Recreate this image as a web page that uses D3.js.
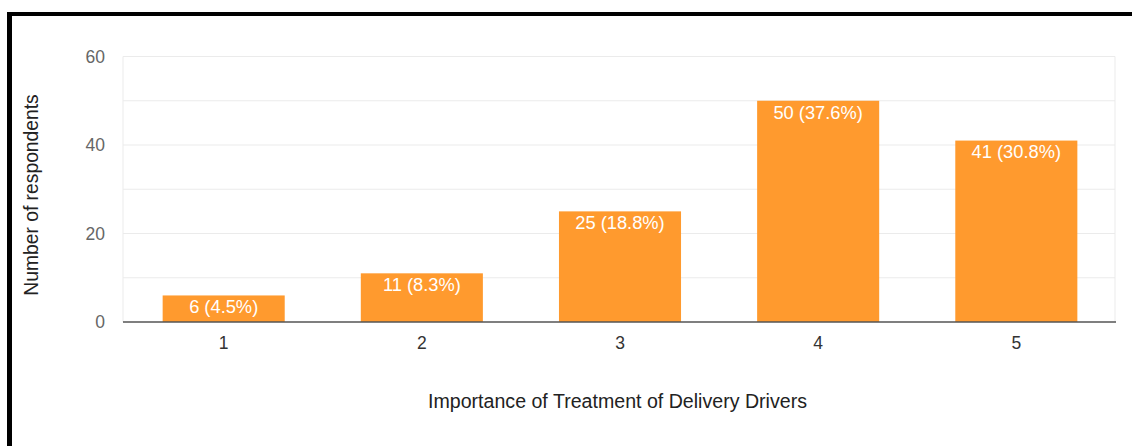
<!DOCTYPE html>
<html><head><meta charset="utf-8">
<script src="https://cdn.jsdelivr.net/npm/d3@7"></script>
<style>body{margin:0;background:#fff;}svg{display:block;font-family:"Liberation Sans",Arial,sans-serif;}</style>
</head><body>
<svg id="c" width="1132" height="446"></svg>
<script>
const categories = ["1","2","3","4","5"];
const counts = [6, 11, 25, 50, 41];
const percents = ["4.5%","8.3%","18.8%","37.6%","30.8%"];
const yTicks = [0, 20, 40, 60];
const yGrid = [0, 10, 20, 30, 40, 50, 60];
const xTitle = "Importance of Treatment of Delivery Drivers";
const yTitle = "Number of respondents";

(function(){
const svg = d3.select("#c");
const pL = 123, pR = 1115, pT = 56.5, pB = 322;
const x = d3.scaleBand().domain(categories).range([pL + 2, pR]).paddingInner(0.384).paddingOuter(0.19);
const y = d3.scaleLinear().domain([0, 60]).range([pB, pT]);

// frame border
svg.append("rect").attr("x",7).attr("y",12).attr("width",1125).attr("height",4).attr("fill","#000");
svg.append("rect").attr("x",7).attr("y",12).attr("width",5).attr("height",434).attr("fill","#000");

// gridlines
svg.append("g").selectAll("line").data(yGrid.filter(d=>d>0)).join("line")
  .attr("x1",pL).attr("x2",pR).attr("y1",d=>y(d)).attr("y2",d=>y(d))
  .attr("stroke","#ebebeb").attr("stroke-width",1);
svg.append("line").attr("x1",pL).attr("x2",pL).attr("y1",pT).attr("y2",pB).attr("stroke","#ebebeb");
svg.append("line").attr("x1",pR).attr("x2",pR).attr("y1",pT).attr("y2",pB).attr("stroke","#ebebeb");

// bars
svg.append("g").selectAll("rect").data(counts).join("rect")
  .attr("x",(d,i)=>x(categories[i])).attr("width",x.bandwidth())
  .attr("y",d=>y(d)).attr("height",d=>y(0)-y(d)).attr("fill","#ff9a2e");

// bar labels
svg.append("g").selectAll("text").data(counts).join("text")
  .attr("x",(d,i)=>x(categories[i])+x.bandwidth()/2).attr("y",d=>y(d)+13)
  .attr("text-anchor","middle").attr("dominant-baseline","middle")
  .attr("fill","#fff").attr("font-size",18.3)
  .text((d,i)=>`${d} (${percents[i]})`);

// baseline
svg.append("line").attr("x1",pL).attr("x2",pR+1).attr("y1",y(0)).attr("y2",y(0)).attr("stroke","#555").attr("stroke-width",1.5);

// y axis
const ya = svg.append("g").attr("transform",`translate(${pL},0)`)
  .call(d3.axisLeft(y).tickValues(yTicks).tickSize(0).tickPadding(18));
ya.select(".domain").remove();
ya.selectAll("text").attr("font-size",17.5).attr("fill","#666").attr("font-family","Liberation Sans, Arial, sans-serif");

// x axis
const xa = svg.append("g").attr("transform",`translate(0,${pB})`)
  .call(d3.axisBottom(x).tickSize(0).tickPadding(15));
xa.select(".domain").remove();
xa.selectAll("text").attr("font-size",17.5).attr("fill","#333").attr("font-family","Liberation Sans, Arial, sans-serif");

// titles
svg.append("text").attr("x",617.5).attr("y",403).attr("text-anchor","middle")
  .attr("dominant-baseline","middle").attr("font-size",19.6).attr("fill","#222").text(xTitle);
svg.append("text").attr("transform","translate(33,195) rotate(-90)").attr("text-anchor","middle")
  .attr("dominant-baseline","middle").attr("font-size",19.3).attr("fill","#222").text(yTitle);
})();
</script>
</body></html>
